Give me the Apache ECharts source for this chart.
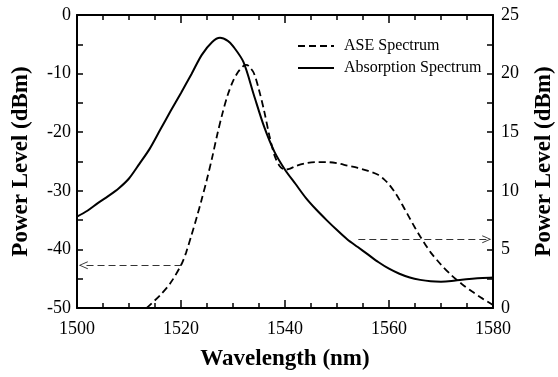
<!DOCTYPE html>
<html>
<head>
<meta charset="utf-8">
<script src="https://cdn.jsdelivr.net/npm/echarts@6/dist/echarts.min.js"></script>
<style>html,body{margin:0;padding:0;background:#fff}#c{width:558px;height:377px}</style>
</head>
<body>
<div id="c"></div>
<script>
// Wavelength (nm) and ASE power (dBm, left axis)
const aseWavelength = [1513.4,1514,1516,1518,1520,1521,1522,1523,1524,1525,1526,1527,1528,1529,1530,1531,1532,1532.5,1533,1534,1535,1536,1537,1538,1539,1540,1541,1542,1544,1546,1548,1550,1552,1554,1556,1558,1559,1560,1561,1562,1563,1564,1565,1566,1567,1568,1570,1572,1574,1576,1578,1580];
const asePower = [-50,-49.5,-47.8,-45.7,-42.7,-40.5,-37.6,-34.6,-31.4,-28.0,-24.3,-20.3,-16.7,-13.6,-11.3,-9.7,-8.7,-8.5,-8.7,-9.9,-12.8,-16.4,-20.6,-24.0,-25.8,-26.4,-26.2,-25.8,-25.3,-25.1,-25.1,-25.3,-25.7,-26.1,-26.6,-27.3,-28.0,-28.9,-30.1,-31.5,-33.1,-34.7,-36.3,-37.8,-39.2,-40.5,-42.6,-44.4,-45.9,-47.2,-48.4,-49.5];
// Wavelength (nm) and absorption spectrum (right axis)
const absWavelength = [1500,1502,1504,1506,1508,1510,1512,1514,1516,1518,1520,1522,1524,1526,1527.5,1529,1530,1532,1534,1536,1538,1540,1542,1544,1546,1548,1550,1552,1554,1556,1558,1560,1562,1564,1566,1568,1570,1572,1574,1576,1578,1580];
const absPower = [7.8,8.3,8.95,9.55,10.2,11.05,12.3,13.6,15.2,16.8,18.35,19.95,21.6,22.7,23.05,22.8,22.35,21.0,18.2,15.45,13.3,11.8,10.6,9.4,8.4,7.5,6.65,5.85,5.2,4.55,3.9,3.35,2.92,2.6,2.4,2.28,2.25,2.3,2.42,2.5,2.56,2.6];
// Annotation arrows (start, end)
const leftArrow = [[1520.1,-42.7],[1501.2,-42.7]];
const rightArrow = [[1554.1,5.86],[1578.8,5.86]];
const seriesNames = ['ASE Spectrum','Absorption Spectrum'];
const xTitle = 'Wavelength (nm)';
const yTitle = 'Power Level (dBm)';

const FONT = 'Liberation Serif';
const arrowPath = 'path://M5,0 L10,10 L8.8,10 L5,2.2 L1.2,10 L0,10 Z';
const chart = echarts.init(document.getElementById('c'), null, {renderer:'canvas'});
const plain = v => String(v);
const axisCommon = {
  axisLine:{show:true,onZero:false,lineStyle:{color:'#000',width:2}},
  splitLine:{show:false},
  nameTextStyle:{color:'#000',fontFamily:FONT,fontSize:23,fontWeight:'bold'}
};
chart.setOption({
  animation:false,
  backgroundColor:'#fff',
  grid:{left:77,right:65,top:15,bottom:69,containLabel:false,outerBoundsMode:'none'},
  legend:{
    data:seriesNames, orient:'vertical', left:292, top:33,
    itemWidth:36, itemHeight:14, itemGap:6,
    itemStyle:{opacity:0},
    textStyle:{color:'#000',fontFamily:FONT,fontSize:16,padding:[0,0,0,5]}
  },
  xAxis:[
    Object.assign({}, axisCommon, {
      type:'value', min:1500, max:1580, interval:20, position:'bottom',
      name:xTitle, nameLocation:'middle', nameGap:40,
      axisTick:{show:true,inside:true,length:8,lineStyle:{color:'#000',width:1.5}},
      minorTick:{show:true,splitNumber:4,length:5,lineStyle:{color:'#000',width:1.5}},
      axisLabel:{color:'#000',fontFamily:FONT,fontSize:18,margin:12,formatter:plain}
    }),
    Object.assign({}, axisCommon, {
      type:'value', min:1500, max:1580, interval:20, position:'top',
      axisTick:{show:true,inside:true,length:8,lineStyle:{color:'#000',width:1.5}},
      minorTick:{show:true,splitNumber:4,length:5,lineStyle:{color:'#000',width:1.5}},
      axisLabel:{show:false}
    })
  ],
  yAxis:[
    Object.assign({}, axisCommon, {
      type:'value', min:-50, max:0, interval:10, position:'left',
      name:yTitle, nameLocation:'middle', nameGap:44, nameRotate:90,
      axisTick:{show:true,inside:true,length:6,lineStyle:{color:'#000',width:1.5}},
      minorTick:{show:true,splitNumber:2,length:6,lineStyle:{color:'#000',width:1.5}},
      axisLabel:{color:'#000',fontFamily:FONT,fontSize:18,margin:6,formatter:plain}
    }),
    Object.assign({}, axisCommon, {
      type:'value', min:0, max:25, interval:5, position:'right',
      name:yTitle, nameLocation:'middle', nameGap:40, nameRotate:90,
      axisTick:{show:true,inside:true,length:6,lineStyle:{color:'#000',width:1.5}},
      minorTick:{show:true,splitNumber:2,length:6,lineStyle:{color:'#000',width:1.5}},
      axisLabel:{color:'#000',fontFamily:FONT,fontSize:18,margin:8,formatter:plain}
    })
  ],
  series:[
    {
      name:seriesNames[0], type:'line', xAxisIndex:0, yAxisIndex:0,
      data:aseWavelength.map((x,i)=>[x,asePower[i]]),
      showSymbol:false, symbol:'none', smooth:0.3,
      lineStyle:{color:'#000',width:1.8,type:[7,4]},
      itemStyle:{color:'#000'},
      markLine:{
        silent:true, symbol:['none',arrowPath], symbolSize:[8,9],
        label:{show:false},
        lineStyle:{color:'#333',width:1.2,type:[7,4]},
        data:[[{coord:leftArrow[0]},{coord:leftArrow[1]}]]
      }
    },
    {
      name:seriesNames[1], type:'line', xAxisIndex:0, yAxisIndex:1,
      data:absWavelength.map((x,i)=>[x,absPower[i]]),
      showSymbol:false, symbol:'none', smooth:0.3,
      lineStyle:{color:'#000',width:2},
      itemStyle:{color:'#000'},
      markLine:{
        silent:true, symbol:['none',arrowPath], symbolSize:[8,9],
        label:{show:false},
        lineStyle:{color:'#333',width:1.2,type:[7,4]},
        data:[[{coord:rightArrow[0]},{coord:rightArrow[1]}]]
      }
    }
  ]
});
</script>
</body>
</html>
